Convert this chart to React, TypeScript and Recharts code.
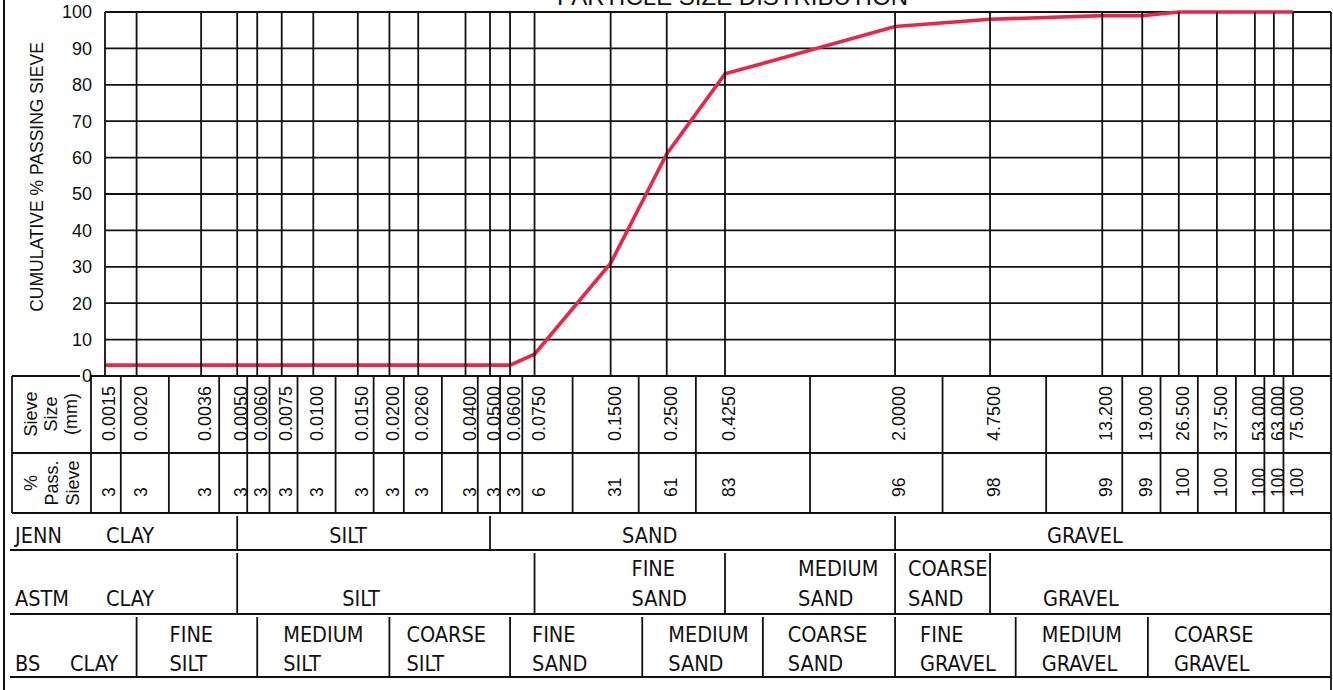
import React from "react";
import { CartesianGrid, Line, LineChart, XAxis, YAxis } from "recharts";

// sieve sizes (mm) and cumulative % passing
const SIEVES = [
  0.0015, 0.002, 0.0036, 0.005, 0.006, 0.0075, 0.01, 0.015, 0.02, 0.026, 0.04,
  0.05, 0.06, 0.075, 0.15, 0.25, 0.425, 2, 4.75, 13.2, 19, 26.5, 37.5, 53, 63,
  75,
];
const PASSING = [
  3, 3, 3, 3, 3, 3, 3, 3, 3, 3, 3, 3, 3, 6, 31, 61, 83, 96, 98, 99, 99, 100,
  100, 100, 100, 100,
];
const Y_TICKS = [0, 10, 20, 30, 40, 50, 60, 70, 80, 90, 100];
const X_DOMAIN = [0.0015, 106];

// classification bands: where each band starts (mm) and its name
const JENN_NAMES = ["CLAY", "SILT", "SAND", "GRAVEL"];
const JENN_FROM = [0.0015, 0.005, 0.05, 2];
const ASTM_NAMES = ["CLAY", "SILT", "FINE SAND", "MEDIUM SAND", "COARSE SAND", "GRAVEL"];
const ASTM_FROM = [0.0015, 0.005, 0.075, 0.425, 2, 4.75];
const BS_NAMES = [
  "CLAY",
  "FINE SILT",
  "MEDIUM SILT",
  "COARSE SILT",
  "FINE SAND",
  "MEDIUM SAND",
  "COARSE SAND",
  "FINE GRAVEL",
  "MEDIUM GRAVEL",
  "COARSE GRAVEL",
];
const BS_FROM = [0.0015, 0.002, 0.006, 0.02, 0.06, 0.2, 0.6, 2, 6, 20];

const data = SIEVES.map((s, i) => ({ size: s, pass: PASSING[i] }));

// column borders of the table sit halfway (log) between sieves
const COL_DIVIDERS = SIEVES.slice(1).map((s, i) => Math.sqrt(s * SIEVES[i]));

// layout
const W = 1333;
const H = 690;
const TOP = 12;
const BOTTOM = 376;
const RIGHT = 1331;
const ROW_SIEVE = 453;
const ROW_PASS = 513;
const INK = "#111";
const LW = 1.8;
const RED = "#ea2648";
const ARIAL = "'Liberation Sans', Arial, sans-serif";
const TAHOMA = "'DejaVu Sans Condensed', 'DejaVu Sans', sans-serif";
const CLASS_FONT = 21.5;

const CLASS_ROWS = [
  {
    title: "JENN",
    names: JENN_NAMES,
    from: JENN_FROM,
    pad: [1, 92, 132, 152],
    top: 513,
    bottom: 550,
    base: [543, 543],
  },
  {
    title: "ASTM",
    names: ASTM_NAMES,
    from: ASTM_FROM,
    pad: [1, 105, 97, 73, 13, 53],
    top: 550,
    bottom: 614,
    base: [576, 606],
  },
  {
    title: "BS",
    names: BS_NAMES,
    from: BS_FROM,
    pad: [-35, 33, 26, 17, 22, 26, 25, 25, 26, 26],
    top: 614,
    bottom: 677,
    base: [642, 671],
  },
];

const ALL_TICKS = Array.from(
  new Set([...SIEVES, ...COL_DIVIDERS, ...JENN_FROM, ...ASTM_FROM, ...BS_FROM])
).sort((a, b) => a - b);

function sieveLabel(v: number) {
  return v < 10 ? v.toFixed(4) : v.toFixed(3);
}

function TableTick(props: any) {
  const { x, payload } = props;
  const v = payload.value;
  const parts: React.ReactNode[] = [];
  const i = SIEVES.indexOf(v);
  if (i >= 0) {
    const tx = x + 10;
    parts.push(
      <line key="g" x1={x} x2={x} y1={TOP} y2={BOTTOM} stroke={INK} strokeWidth={LW} />,
      <text
        key="s"
        x={tx}
        y={441}
        transform={`rotate(-90, ${tx}, 441)`}
        fontFamily={ARIAL}
        fontSize={18}
        fill={INK}
      >
        {sieveLabel(v)}
      </text>,
      <text
        key="p"
        x={tx}
        y={497}
        transform={`rotate(-90, ${tx}, 497)`}
        fontFamily={ARIAL}
        fontSize={17.5}
        fill={INK}
      >
        {PASSING[i]}
      </text>
    );
  }
  if (COL_DIVIDERS.includes(v)) {
    parts.push(
      <line key="c" x1={x} x2={x} y1={BOTTOM} y2={ROW_PASS} stroke={INK} strokeWidth={LW} />
    );
  }
  CLASS_ROWS.forEach((row) => {
    const k = row.from.indexOf(v);
    if (k < 0) return;
    if (k > 0) {
      parts.push(
        <line
          key={row.title + "l"}
          x1={x}
          x2={x}
          y1={row.top + 3}
          y2={row.bottom}
          stroke={INK}
          strokeWidth={LW}
        />
      );
    }
    const words = row.names[k].split(" ");
    const lines = words.length > 1 ? row.base : [row.base[1]];
    words.forEach((w, j) =>
      parts.push(
        <text
          key={row.title + "t" + j}
          x={x + row.pad[k]}
          y={lines[j]}
          fontFamily={TAHOMA}
          fontSize={CLASS_FONT}
          fill={INK}
        >
          {w}
        </text>
      )
    );
  });
  return <g>{parts}</g>;
}

function Frame() {
  const hl = (y: number, x1 = 12) => (
    <line key={"h" + y} x1={x1} x2={RIGHT} y1={y} y2={y} stroke={INK} strokeWidth={LW} />
  );
  return (
    <svg
      width={W}
      height={H}
      style={{ position: "absolute", left: 0, top: 0, pointerEvents: "none" }}
    >
      <line x1={4} x2={4} y1={0} y2={H} stroke={INK} strokeWidth={2} />
      <line x1={RIGHT} x2={RIGHT} y1={TOP} y2={H} stroke={INK} strokeWidth={LW} />
      <line x1={12} x2={80} y1={BOTTOM} y2={BOTTOM} stroke={INK} strokeWidth={LW} />
      <line x1={90} x2={RIGHT} y1={BOTTOM} y2={BOTTOM} stroke={INK} strokeWidth={LW} />
      {hl(ROW_SIEVE)}
      {hl(ROW_PASS)}
      {hl(550, 10)}
      {hl(614, 10)}
      {hl(677, 10)}
      <line x1={12} x2={12} y1={BOTTOM} y2={ROW_PASS} stroke={INK} strokeWidth={LW} />
      <line x1={91} x2={91} y1={BOTTOM} y2={ROW_PASS} stroke={INK} strokeWidth={LW} />
      <text x={557} y={5} fontFamily={ARIAL} fontSize={24} fill={INK}>
        PARTICLE SIZE DISTRIBUTION
      </text>
      <text
        x={43}
        y={177}
        transform="rotate(-90, 43, 177)"
        textAnchor="middle"
        fontFamily={ARIAL}
        fontSize={17.5}
        fill={INK}
      >
        CUMULATIVE % PASSING SIEVE
      </text>
      <g fontFamily={ARIAL} fontSize={18} fill={INK} textAnchor="middle">
        {["Sieve", "Size", "(mm)"].map((t, i) => (
          <text key={t} x={37 + i * 20} y={414} transform={`rotate(-90, ${37 + i * 20}, 414)`}>
            {t}
          </text>
        ))}
        {["%", "Pass.", "Sieve"].map((t, i) => (
          <text key={t} x={37 + i * 21} y={483} transform={`rotate(-90, ${37 + i * 21}, 483)`}>
            {t}
          </text>
        ))}
      </g>
      <g fontFamily={TAHOMA} fontSize={CLASS_FONT} fill={INK}>
        {CLASS_ROWS.map((r) => (
          <text key={r.title} x={15} y={r.base[1]}>
            {r.title}
          </text>
        ))}
      </g>
    </svg>
  );
}

export default function App() {
  return (
    <div style={{ position: "absolute", left: 0, top: 0, width: W, height: H, background: "#fff" }}>
      <LineChart
        width={W}
        height={H}
        data={data}
        margin={{ top: TOP, right: W - RIGHT, bottom: 0, left: 45 }}
      >
        <CartesianGrid stroke={INK} strokeWidth={LW} vertical={false} />
        <XAxis
          dataKey="size"
          type="number"
          scale="log"
          domain={X_DOMAIN}
          allowDataOverflow
          ticks={ALL_TICKS}
          interval={0}
          tick={(p: any) => <TableTick {...p} />}
          tickLine={false}
          axisLine={false}
          height={H - BOTTOM}
        />
        <YAxis
          type="number"
          domain={[0, 100]}
          ticks={Y_TICKS}
          interval={0}
          width={60}
          tickLine={false}
          axisLine={false}
          tickMargin={7}
          tick={{ fontSize: 18, fill: INK, fontFamily: ARIAL }}
        />
        <Line
          type="linear"
          dataKey="pass"
          stroke={RED}
          strokeWidth={3.6}
          dot={false}
          isAnimationActive={false}
        />
      </LineChart>
      <Frame />
    </div>
  );
}
